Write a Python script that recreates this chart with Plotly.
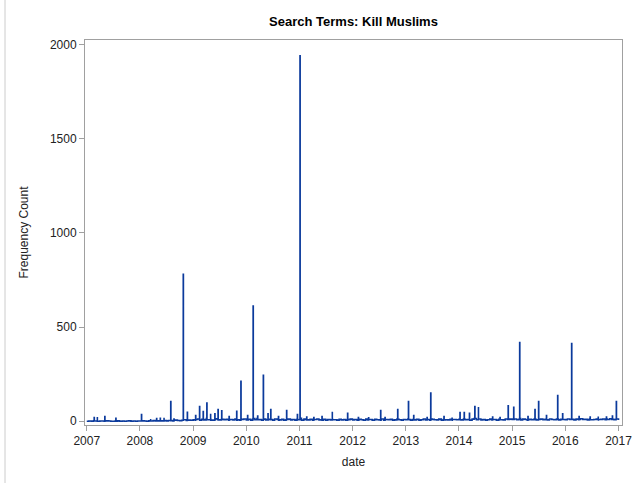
import pandas as pd
import plotly.graph_objects as go

# ---- data ----
spike_dates = [
    "2007-02-21", "2007-03-15", "2007-05-05", "2007-07-20",
    "2008-01-12", "2008-03-15", "2008-04-25", "2008-05-20", "2008-06-15",
    "2008-07-31", "2008-08-22", "2008-10-25", "2008-11-22",
    "2009-01-18", "2009-02-14", "2009-03-11", "2009-04-05", "2009-05-01",
    "2009-05-30", "2009-06-21", "2009-07-16", "2009-09-05", "2009-10-27",
    "2009-11-25", "2010-01-10", "2010-02-17", "2010-03-20", "2010-04-28",
    "2010-05-30", "2010-06-18", "2010-08-10", "2010-10-05", "2010-12-18",
    "2011-01-05", "2011-02-20", "2011-04-10", "2011-06-05", "2011-08-15",
    "2011-11-28", "2012-02-10", "2012-04-20", "2012-07-12", "2012-08-11",
    "2012-11-06", "2013-01-19", "2013-02-24", "2013-05-27", "2013-06-21",
    "2013-09-20", "2013-11-15", "2014-01-08", "2014-02-06", "2014-03-14",
    "2014-04-20", "2014-05-15", "2014-08-20", "2014-10-10", "2014-12-05",
    "2015-01-12", "2015-02-22", "2015-04-20", "2015-06-07", "2015-07-02",
    "2015-08-25", "2015-11-10", "2015-12-14", "2016-02-14", "2016-04-05",
    "2016-06-20", "2016-08-15", "2016-10-10", "2016-11-20", "2016-12-17",
]
spike_counts = [
    20, 22, 25, 15,
    35, 12, 14, 15, 18,
    104, 12, 780, 48,
    30, 78, 52, 96, 40,
    40, 62, 55, 25, 53,
    212, 30, 612, 28, 244,
    40, 62, 25, 57, 35,
    1940, 22, 20, 25, 50,
    42, 20, 18, 57, 20,
    62, 104, 30, 20, 149,
    25, 20, 46, 46, 42,
    78, 75, 22, 20, 82,
    74, 418, 25, 62, 104,
    30, 136, 40, 413, 25,
    22, 25, 22, 28, 104,
]
# count on the day following each spike (back at the background level)
after_spike_counts = [
    1, 0, 1, 0,
    2, 1, 2, 1, 3,
    4, 5, 8, 6,
    9, 7, 10, 8, 6,
    9, 7, 10, 8, 6,
    12, 7, 14, 8, 10,
    7, 9, 6, 10, 8,
    15, 7, 9, 6, 8,
    10, 7, 9, 6, 8,
    10, 9, 7, 8, 12,
    7, 9, 8, 10, 7,
    14, 12, 9, 8, 10,
    9, 14, 8, 10, 9,
    8, 12, 9, 14, 10,
    8, 9, 11, 10, 12,
]

# half-monthly background level of the daily counts
baseline_2007 = [0, 1, 0, 2, 1, 0, 1, 1, 0, 2, 1, 0, 0, 1, 2, 0, 1, 0, 1, 2, 0, 1, 0, 1]
baseline_2008 = [1, 2, 1, 0, 2, 1, 3, 1, 2, 1, 2, 3, 2, 4, 3, 2, 6, 4, 3, 5, 8, 4, 6, 5]
baseline_2009 = [8, 5, 12, 6, 10, 7, 14, 8, 11, 6, 13, 9, 7, 12, 8, 10, 6, 9, 7, 11, 8, 6, 9, 12]
baseline_2010 = [7, 10, 6, 12, 8, 14, 9, 6, 11, 7, 10, 8, 6, 12, 9, 7, 10, 6, 8, 11, 7, 9, 6, 10]
baseline_2011 = [9, 6, 11, 8, 7, 10, 6, 9, 12, 7, 8, 10, 6, 9, 7, 11, 8, 6, 10, 7, 9, 6, 8, 11]
baseline_2012 = [7, 9, 6, 10, 8, 6, 11, 7, 9, 6, 10, 8, 7, 12, 6, 9, 8, 10, 6, 7, 11, 8, 6, 9]
baseline_2013 = [8, 11, 6, 9, 7, 10, 6, 8, 12, 7, 9, 6, 10, 8, 7, 11, 6, 9, 8, 7, 10, 6, 9, 8]
baseline_2014 = [10, 7, 12, 8, 9, 6, 11, 14, 8, 10, 7, 9, 6, 8, 11, 7, 9, 6, 10, 8, 7, 12, 9, 11]
baseline_2015 = [9, 12, 8, 10, 7, 11, 9, 6, 10, 8, 12, 7, 9, 11, 8, 10, 7, 12, 9, 8, 11, 7, 10, 9]
baseline_2016 = [8, 12, 9, 10, 7, 11, 8, 13, 9, 10, 7, 12, 8, 9, 11, 7, 10, 12, 8, 9, 13, 10, 8, 12]
baseline_2017 = [6]
baseline_counts = (baseline_2007 + baseline_2008 + baseline_2009 + baseline_2010 + baseline_2011
                   + baseline_2012 + baseline_2013 + baseline_2014 + baseline_2015
                   + baseline_2016 + baseline_2017)
baseline_dates = pd.date_range("2007-01-01", periods=len(baseline_counts), freq="SMS")

year_ticks = [f"{y}-01-01" for y in range(2007, 2018)]
year_labels = [str(y) for y in range(2007, 2018)]
y_ticks = [0, 500, 1000, 1500, 2000]

# ---- assemble the daily series ----
spike_days = pd.to_datetime(spike_dates)
df = pd.concat([
    pd.DataFrame({"date": spike_days, "count": spike_counts}),
    pd.DataFrame({"date": spike_days + pd.Timedelta(days=1), "count": after_spike_counts}),
    pd.DataFrame({"date": baseline_dates, "count": baseline_counts}),
]).sort_values("date", kind="stable")

W, H = 635, 483
ML, MR, MT, MB = 85, 13, 40, 58
pw, ph = W - ML - MR, H - MT - MB

fig = go.Figure()
fig.add_trace(go.Scatter(
    x=df["date"], y=df["count"], mode="lines",
    line=dict(color="#0b3a9c", width=1.6, shape="hv"),
    showlegend=False,
))

axis_common = dict(
    showline=True, linecolor="#a0a0a0", linewidth=1, mirror=True,
    ticks="outside", ticklen=5, tickcolor="#a0a0a0", tickwidth=1,
    showgrid=False, zeroline=False, automargin=False,
    tickfont=dict(family="Liberation Sans, Arial, sans-serif", size=12, color="#222"),
)

fig.update_layout(
    width=W, height=H,
    margin=dict(l=ML, r=MR, t=MT, b=MB, autoexpand=False),
    paper_bgcolor="white", plot_bgcolor="white",
    font=dict(family="Liberation Sans, Arial, sans-serif", color="#222"),
    title=dict(text="<b>Search Terms: Kill Muslims</b>", x=0.5, xref="paper",
               y=1 - 21 / H, yref="container", yanchor="middle",
               font=dict(size=13, color="#000")),
    xaxis=dict(axis_common, range=["2006-12-20", "2017-01-25"],
               tickvals=year_ticks, ticktext=year_labels,
               title=dict(text="date", font=dict(size=12, color="#222"), standoff=10)),
    yaxis=dict(axis_common, range=[-20, 2024], tickvals=y_ticks,
               title=dict(text="Frequency Count", font=dict(size=12, color="#222"), standoff=18)),
)

# light outer frame of the image
x0 = (5 - ML) / pw
y0 = (H - MT - 4) / ph
fig.add_shape(type="line", xref="paper", yref="paper", x0=x0, x1=x0, y0=y0, y1=-(MB + 5) / ph,
              line=dict(color="#cccccc", width=1))
fig.add_shape(type="line", xref="paper", yref="paper", x0=x0, x1=(W - ML + 5) / pw, y0=y0, y1=y0,
              line=dict(color="#cccccc", width=1))

fig.write_html("out.html")
